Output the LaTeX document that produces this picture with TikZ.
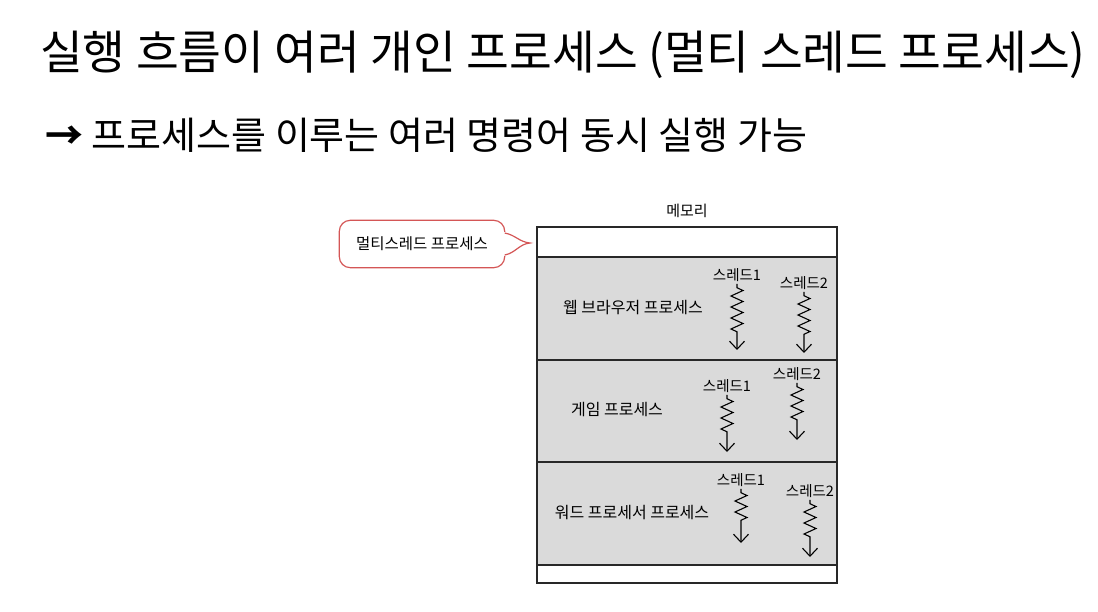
\documentclass[tikz,border=0pt]{standalone}
\usepackage{fontspec}
\setmainfont{Noto Sans CJK KR}
\usetikzlibrary{arrows.meta,decorations.pathmorphing,positioning}

\definecolor{rowgray}{RGB}{218,218,218}
\definecolor{calloutred}{RGB}{212,86,86}
\definecolor{linegray}{RGB}{40,40,40}

\begin{document}
\begin{tikzpicture}[x=1pt, y=-1pt]

% --- styles ---
\tikzset{
    titletext/.style={font=\fontsize{46.5}{50}\selectfont, anchor=base west, inner sep=0pt},
    subtext/.style={font=\fontsize{38}{42}\selectfont, anchor=base west, inner sep=0pt},
    memrow/.style={draw=linegray, line width=1.6pt, fill=rowgray},
    memfree/.style={draw=linegray, line width=1.6pt, fill=white},
    memlabel/.style={font=\fontsize{15}{17}\selectfont, inner sep=0pt},
    proclabel/.style={font=\fontsize{16}{18}\selectfont, inner sep=0pt},
    threadlabel/.style={font=\fontsize{14.5}{16}\selectfont, inner sep=2pt},
    threadarrow/.style={
        draw=black, line width=1.1pt,
        -{Straight Barb[length=8pt, width=15pt]},
        decorate,
        decoration={zigzag, amplitude=6pt, segment length=11pt, pre length=4pt, post length=18pt}
    },
    callbox/.style={
        rectangle, minimum width=165pt, minimum height=47pt, inner sep=0pt,
        font=\fontsize{15.5}{17}\selectfont
    },
    callline/.style={draw=calloutred, line width=1.2pt}
}

\useasboundingbox (0,0) rectangle (1098,612);

% 제목
\node[titletext] (title) at (40,70) {실행 흐름이 여러 개인 프로세스 (멀티 스레드 프로세스)};
\node[subtext] (subtitle) at (45,150) {\textbf{→} 프로세스를 이루는 여러 명령어 동시 실행 가능};

% 메모리
\draw[memfree] (537,227) rectangle (837,257);
\draw[memrow]  (537,257) rectangle (837,360);
\draw[memrow]  (537,360) rectangle (837,462);
\draw[memrow]  (537,462) rectangle (837,565);
\draw[memfree] (537,565) rectangle (837,583);
\node[memlabel] (mem) at (687,211) {메모리};

% 말풍선
\node[callbox] (mtcall) at (422,244) {멀티스레드 프로세스};
\coordinate (mttip) at (530,243);
\draw[callline, rounded corners=11pt]
    (mtcall.east |- 0,232) -- (mtcall.north east) -- (mtcall.north west)
    -- (mtcall.south west) -- (mtcall.south east) -- (mtcall.east |- 0,256);
\draw[callline] (mtcall.east |- 0,233) to[out=-10, in=175] (mttip)
    to[out=185, in=10] (mtcall.east |- 0,255);

% 웹 브라우저 프로세스
\node[proclabel] (web) at (633,308) {웹 브라우저 프로세스};
\node[threadlabel] (webt1) at (737,275) {스레드1};
\node[threadlabel] (webt2) at (804,283) {스레드2};
\coordinate (webe1) at (webt1.south |- 0,350);
\coordinate (webe2) at (webt2.south |- 0,353);
\draw[threadarrow] (webt1.south) -- (webe1);
\draw[threadarrow] (webt2.south) -- (webe2);

% 게임 프로세스
\node[proclabel] (game) at (617,410) {게임 프로세스};
\node[threadlabel] (gamet1) at (727,386) {스레드1};
\node[threadlabel] (gamet2) at (797,374) {스레드2};
\coordinate (gamee1) at (gamet1.south |- 0,452);
\coordinate (gamee2) at (gamet2.south |- 0,440);
\draw[threadarrow] (gamet1.south) -- (gamee1);
\draw[threadarrow] (gamet2.south) -- (gamee2);

% 워드 프로세서 프로세스
\node[proclabel] (word) at (632,513) {워드 프로세서 프로세스};
\node[threadlabel] (wordt1) at (741,480) {스레드1};
\node[threadlabel] (wordt2) at (810,491) {스레드2};
\coordinate (worde1) at (wordt1.south |- 0,543);
\coordinate (worde2) at (wordt2.south |- 0,557);
\draw[threadarrow] (wordt1.south) -- (worde1);
\draw[threadarrow] (wordt2.south) -- (worde2);

\end{tikzpicture}
\end{document}
